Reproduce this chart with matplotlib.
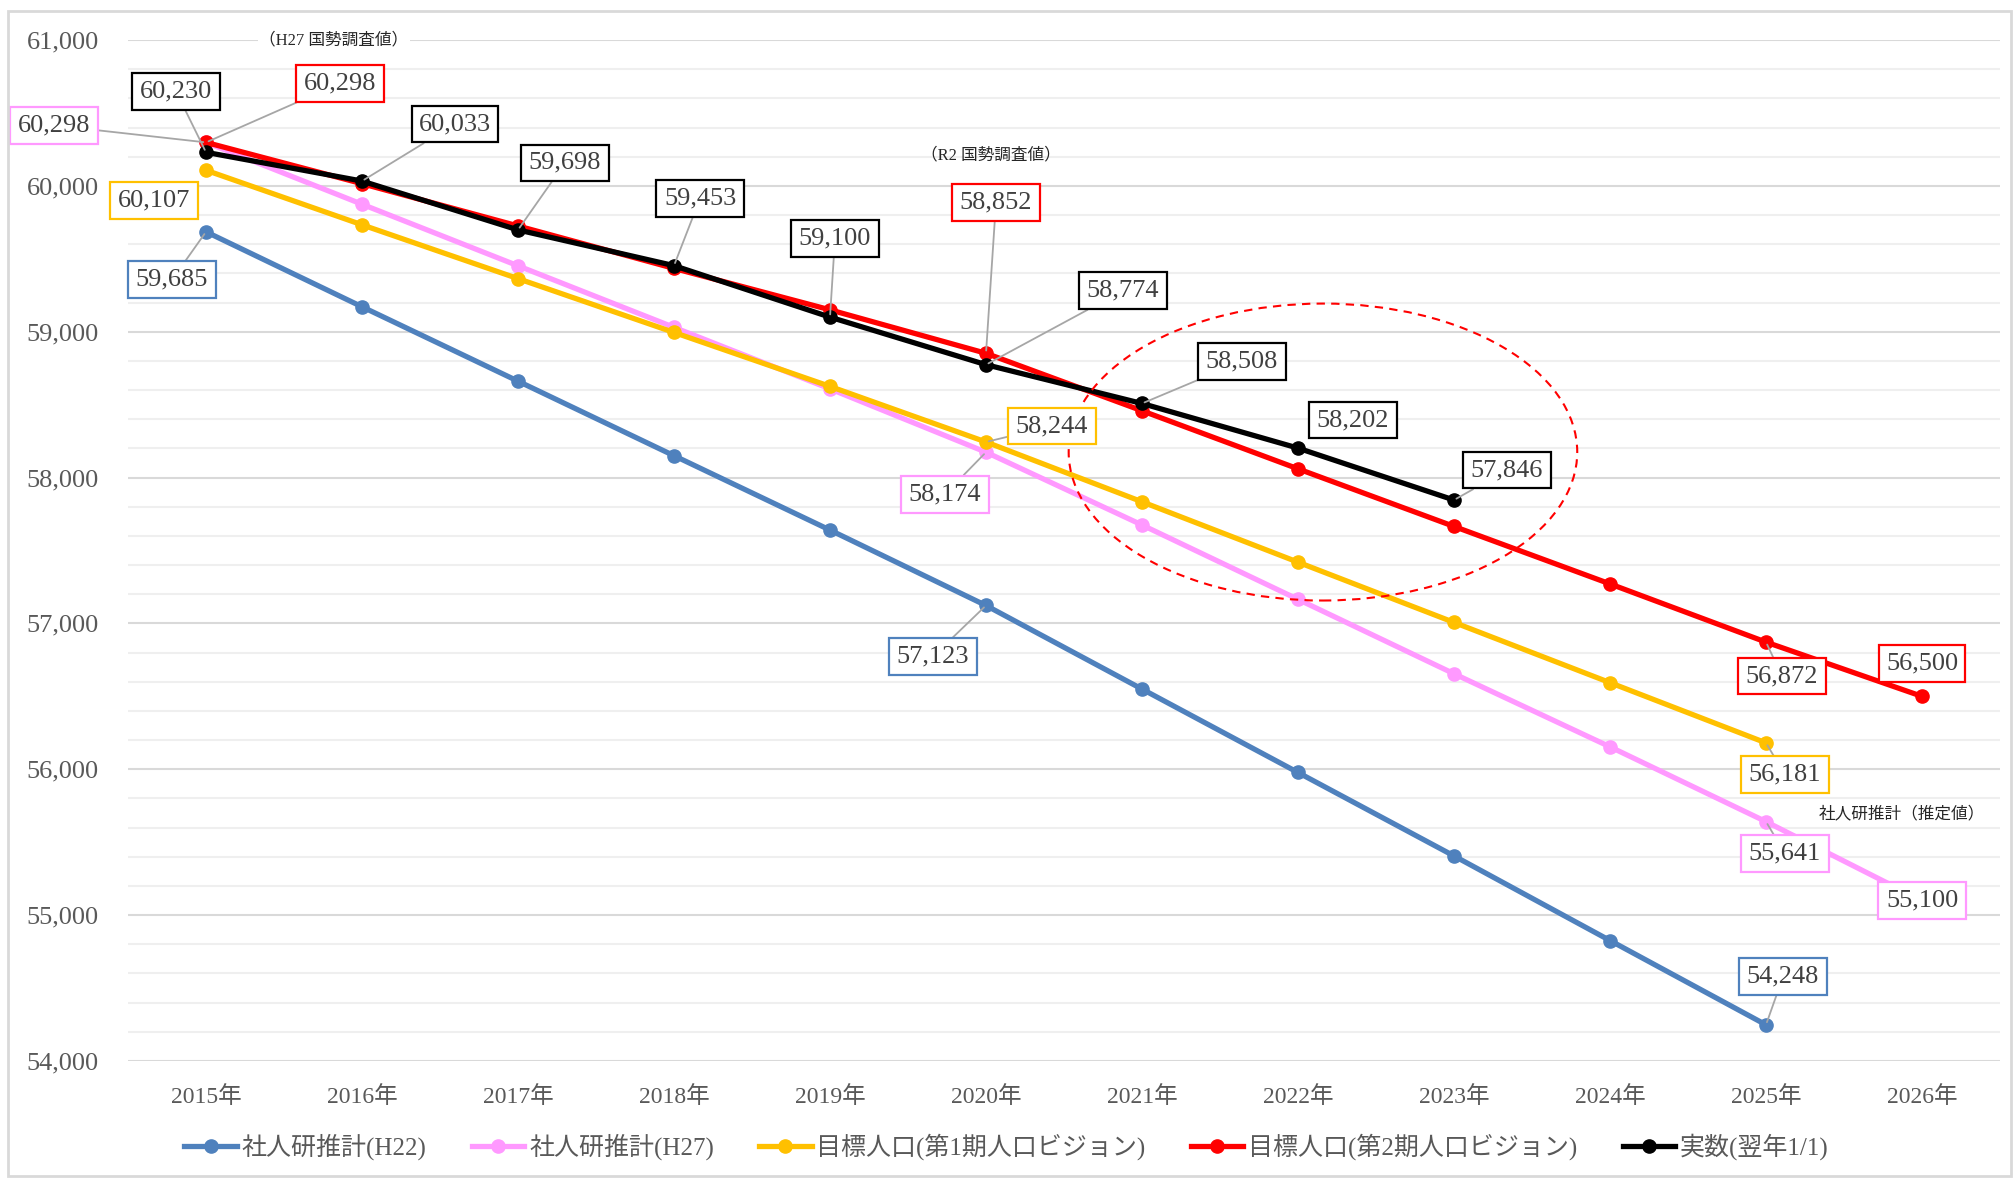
import matplotlib
matplotlib.use("Agg")
import matplotlib.pyplot as plt
import numpy as np
from matplotlib.patches import Ellipse, Rectangle
from matplotlib.ticker import FuncFormatter, MultipleLocator

plt.rcParams['font.family'] = ['Liberation Serif', 'Noto Sans CJK JP']

years = ['2015年', '2016年', '2017年', '2018年', '2019年', '2020年',
         '2021年', '2022年', '2023年', '2024年', '2025年', '2026年']
nan = np.nan
h22 = [59685, 59171, 58661, 58150, 57640, 57123, 56550, 55978, 55406, 54826, 54248, nan]
h27 = [60298, 59874, 59452, 59030, 58608, 58174, 57675, 57165, 56655, 56154, 55641, 55100]
target1 = [60107, 59733, 59364, 58995, 58625, 58244, 57834, 57420, 57007, 56594, 56181, nan]
target2 = [60298, 60015, 59725, 59434, 59150, 58852, 58458, 58060, 57665, 57271, 56872, 56500]
actual = [60230, 60033, 59698, 59453, 59100, 58774, 58508, 58202, 57846, nan, nan, nan]

series = {
    'h22': ('社人研推計(H22)', h22, '#4F81BD'),
    'h27': ('社人研推計(H27)', h27, '#FF99FF'),
    't1': ('目標人口(第1期人口ビジョン)', target1, '#FFC000'),
    't2': ('目標人口(第2期人口ビジョン)', target2, '#FF0000'),
    'act': ('実数(翌年1/1)', actual, '#000000'),
}

# (series, index, offset in pixels, leader line)
labels = [
    ('h27', 0, (-152, 17), True),
    ('act', 0, (-30, 61), True),
    ('t2', 0, (134, 59), True),
    ('t1', 0, (-52, -30), False),
    ('h22', 0, (-34, -48), True),
    ('act', 1, (93, 57), True),
    ('act', 2, (47, 67), True),
    ('act', 3, (26, 67), True),
    ('act', 4, (5, 79), True),
    ('t2', 5, (10, 151), True),
    ('act', 5, (137, 74), True),
    ('t1', 5, (66, 16), True),
    ('h27', 5, (-41, -42), True),
    ('h22', 5, (-53, -51), True),
    ('act', 6, (100, 42), True),
    ('act', 7, (55, 28), False),
    ('act', 8, (53, 30), True),
    ('t2', 10, (16, -34), True),
    ('t2', 11, (0, 33), False),
    ('t1', 10, (19, -32), True),
    ('h27', 10, (19, -32), True),
    ('h27', 11, (0, 0), False),
    ('h22', 10, (17, 48), True),
]

fig = plt.figure(figsize=(20.13, 11.79), dpi=100)
ax = fig.add_axes([128 / 2013, 1 - 1061 / 1179, 1872 / 2013, 1021 / 1179])

x = np.arange(len(years))
for key in ['h22', 'h27', 't1', 't2', 'act']:
    name, vals, col = series[key]
    ax.plot(x, vals, color=col, lw=3.8, marker='o', ms=9.5, label=name, zorder=3)

for key, i, off, leader in labels:
    name, vals, col = series[key]
    v = vals[i]
    kw = {}
    if leader:
        kw['arrowprops'] = dict(arrowstyle='-', color='#A6A6A6', lw=1.3,
                                shrinkA=0, shrinkB=2)
    ax.annotate(f'{v:,.0f}', xy=(i, v), xytext=off, textcoords='offset pixels',
                ha='center', va='center', fontsize=19, color='#404040',
                bbox=dict(boxstyle='square,pad=0.28', fc='white', ec=col, lw=1.6),
                zorder=5, **kw)

ax.text(0.82, 61000, '（H27 国勢調査値）', fontsize=12, color='#262626',
        ha='center', va='center', zorder=4,
        bbox=dict(fc='white', ec='none', pad=1))
ax.text(5.03, 60210, '（R2 国勢調査値）', fontsize=12, color='#262626',
        ha='center', va='center', zorder=4)
ax.text(10.87, 55690, '社人研推計（推定値）', fontsize=12, color='#262626',
        ha='center', va='center', zorder=4)

ax.add_patch(Ellipse((7.16, 58175), 3.26, 2036, fill=False, ec='#FF0000',
                     ls=(0, (4, 3)), lw=1.5, zorder=4))

ax.set_xlim(-0.5, 11.5)
ax.set_ylim(54000, 61000)
ax.set_xticks(x)
ax.set_xticklabels(years)
ax.yaxis.set_major_locator(MultipleLocator(1000))
ax.yaxis.set_minor_locator(MultipleLocator(200))
ax.yaxis.set_major_formatter(FuncFormatter(lambda v, p: f'{v:,.0f}'))
ax.grid(axis='y', which='major', color='#D9D9D9', lw=1.5, zorder=0)
ax.grid(axis='y', which='minor', color='#EFEFEF', lw=1.5, zorder=0)
ax.tick_params(axis='both', which='both', length=0)
ax.tick_params(axis='y', labelsize=19, labelcolor='#595959', pad=21)
ax.tick_params(axis='x', labelsize=17, labelcolor='#595959', pad=18)
for s in ax.spines.values():
    s.set_visible(False)
ax.set_axisbelow(True)

fig.legend(loc='center', bbox_to_anchor=(0.5, 1 - 1147 / 1179), ncol=5,
           frameon=False, fontsize=18, labelcolor='#595959',
           handlelength=2.1, handletextpad=0.2, columnspacing=1.8)

fig.patches.append(Rectangle((8 / 2013, 3 / 1179), 2003 / 2013, 1165 / 1179,
                             transform=fig.transFigure, fill=False,
                             ec='#D9D9D9', lw=2))

fig.savefig('out.png', dpi=100)
